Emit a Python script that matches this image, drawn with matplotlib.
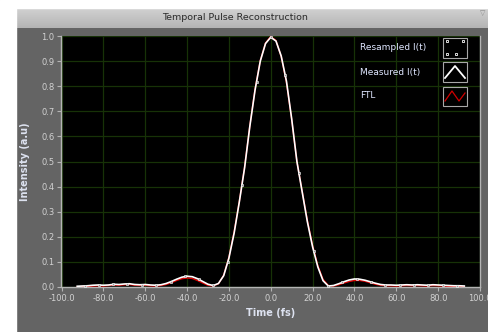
import numpy as np
import matplotlib
matplotlib.use("Agg")
import matplotlib.pyplot as plt
from matplotlib.patches import Rectangle
from matplotlib.lines import Line2D

# -------------------- DATA --------------------
time_fs = np.arange(-92.5, 93.0, 2.5)

measured = [
    0.003, 0.004, 0.005, 0.007, 0.008, 0.007, 0.008, 0.011, 0.010, 0.012,
    0.013, 0.010, 0.009, 0.010, 0.008, 0.007, 0.009, 0.014, 0.022, 0.031,
    0.039, 0.043, 0.041, 0.033, 0.022, 0.011, 0.006, 0.014, 0.045, 0.115,
    0.215, 0.340, 0.475, 0.640, 0.785, 0.900, 0.970, 0.995, 0.980, 0.920,
    0.820, 0.670, 0.500, 0.380, 0.260, 0.160, 0.080, 0.025, 0.004, 0.006,
    0.013, 0.021, 0.028, 0.032, 0.031, 0.027, 0.021, 0.015, 0.010, 0.008,
    0.008, 0.007, 0.008, 0.009, 0.008, 0.009, 0.008, 0.007, 0.009, 0.008,
    0.007, 0.006, 0.005, 0.005, 0.004,
]

ftl = [
    0.001, 0.002, 0.003, 0.004, 0.005, 0.004, 0.006, 0.008, 0.007, 0.009,
    0.010, 0.007, 0.006, 0.007, 0.005, 0.004, 0.006, 0.010, 0.017, 0.026,
    0.033, 0.036, 0.034, 0.026, 0.016, 0.007, 0.004, 0.013, 0.047, 0.118,
    0.220, 0.342, 0.478, 0.642, 0.788, 0.902, 0.972, 0.998, 0.982, 0.918,
    0.815, 0.668, 0.500, 0.382, 0.265, 0.165, 0.085, 0.030, 0.006, 0.004,
    0.009, 0.016, 0.022, 0.026, 0.026, 0.023, 0.017, 0.011, 0.007, 0.005,
    0.005, 0.004, 0.005, 0.006, 0.005, 0.006, 0.005, 0.004, 0.006, 0.005,
    0.004, 0.003, 0.002, 0.002, 0.001,
]

resampled_t = [
    -89.0, -82.2, -75.3, -68.5, -61.6, -54.8, -47.9, -41.1, -34.2, -27.4,
    -20.5, -13.7, -6.8, 0.0, 6.8, 13.7, 20.5, 27.4, 34.2, 41.1,
    47.9, 54.8, 61.6, 68.5, 75.3, 82.2, 89.0,
]
resampled = [
    0.004, 0.008, 0.011, 0.012, 0.009, 0.007, 0.020, 0.042, 0.030, 0.006,
    0.100, 0.405, 0.815, 0.995, 0.845, 0.455, 0.145, 0.005, 0.019, 0.032,
    0.020, 0.008, 0.008, 0.008, 0.007, 0.007, 0.005,
]

legend_labels = ["Resampled I(t)", "Measured I(t)", "FTL"]

# -------------------- FIGURE --------------------
W, H = 489, 332
BG = "#646464"
fig = plt.figure(figsize=(W / 100, H / 100), dpi=100, facecolor=BG)


def fx(px):
    return px / W


def fy(py):
    return 1 - py / H


# white margins on top and left
fig.patches.append(Rectangle((0, fy(8)), 1, 8 / H, transform=fig.transFigure,
                             color="white", zorder=0))
fig.patches.append(Rectangle((0, 0), fx(16), 1, transform=fig.transFigure,
                             color="white", zorder=0))

# title bar with a soft vertical gradient
bar = fig.add_axes([fx(16), fy(28), 1 - fx(16), 20 / H])
grad = np.linspace(0, 1, 50).reshape(-1, 1)
bar.imshow(grad, aspect="auto", cmap=matplotlib.colors.LinearSegmentedColormap.from_list(
    "bar", ["#d2d2d2", "#b4b4b4"]), extent=[0, 1, 0, 1])
bar.set_axis_off()
fig.text(fx(235), fy(17.5), "Temporal Pulse Reconstruction", ha="center",
         va="center", fontsize=6.8, color="#2a2a2a")
fig.text(fx(483), fy(13), "\u25bd", ha="center", va="center", fontsize=5,
         color="#8a8a8a")

# -------------------- PLOT --------------------
ax = fig.add_axes([fx(61.5), fy(287), fx(480) - fx(61.5), (287 - 36) / H])
ax.set_facecolor("black")

ax.plot(time_fs, ftl, color="#e00000", lw=1.0, zorder=3)
ax.plot(time_fs, measured, color="white", lw=1.2, zorder=4)
ax.plot(resampled_t, resampled, ls="none", marker="s", ms=2.0, mfc="#9a9a9a",
        mec="white", mew=0.4, zorder=5)

ax.set_xlim(-100, 100)
ax.set_ylim(0, 1.0)
ax.set_xticks(np.arange(-100, 101, 20))
ax.set_yticks(np.arange(0, 1.01, 0.1))
ax.xaxis.set_major_formatter(matplotlib.ticker.FormatStrFormatter("%.1f"))
ax.yaxis.set_major_formatter(matplotlib.ticker.FormatStrFormatter("%.1f"))
ax.grid(True, color="#173207", lw=0.9)
ax.set_axisbelow(True)
ax.tick_params(colors="#b4b4b4", labelcolor="#d2d2d2", labelsize=6,
               length=3, width=0.8, direction="out", pad=2)

for side in ["left", "bottom", "right"]:
    ax.spines[side].set_color("#b4b4b4")
    ax.spines[side].set_linewidth(1)
ax.spines["top"].set_visible(False)

ax.set_xlabel("Time (fs)", fontsize=7, fontweight="bold", color="#dde2f0",
              labelpad=4)
ax.set_ylabel("Intensity (a.u)", fontsize=7, fontweight="bold",
              color="#dde2f0", labelpad=8)

# -------------------- LEGEND --------------------
text_y = [48, 72, 96]
box_y = [(38, 58), (62, 82), (87, 106)]
for lab, ty in zip(legend_labels, text_y):
    fig.text(fx(360), fy(ty), lab, ha="left", va="center", fontsize=6.5,
             color="#dfe6ff")

for (y0, y1) in box_y:
    fig.patches.append(Rectangle((fx(443), fy(y1)), fx(467) - fx(443),
                                 (y1 - y0) / H, transform=fig.transFigure,
                                 facecolor="black", edgecolor="#a8a8a8",
                                 lw=0.8, zorder=5))

# resampled icon: small squares in the corners
for px, py in [(447, 41), (463, 41), (447, 54), (456, 54)]:
    fig.lines.append(Line2D([fx(px)], [fy(py)], marker="s", ms=2,
                            mfc="none", mec="white", mew=0.6,
                            transform=fig.transFigure, zorder=6))
# measured icon: white peak
fig.lines.append(Line2D([fx(445), fx(455), fx(465)], [fy(78), fy(66), fy(78)],
                        color="white", lw=1.3, transform=fig.transFigure,
                        zorder=6))
# FTL icon: red zigzag
fig.lines.append(Line2D([fx(445), fx(452), fx(459), fx(465)],
                        [fy(101), fy(91), fy(101), fy(93)],
                        color="#d00000", lw=0.9, transform=fig.transFigure,
                        zorder=6))

fig.savefig("out.png", dpi=100, facecolor=fig.get_facecolor())
